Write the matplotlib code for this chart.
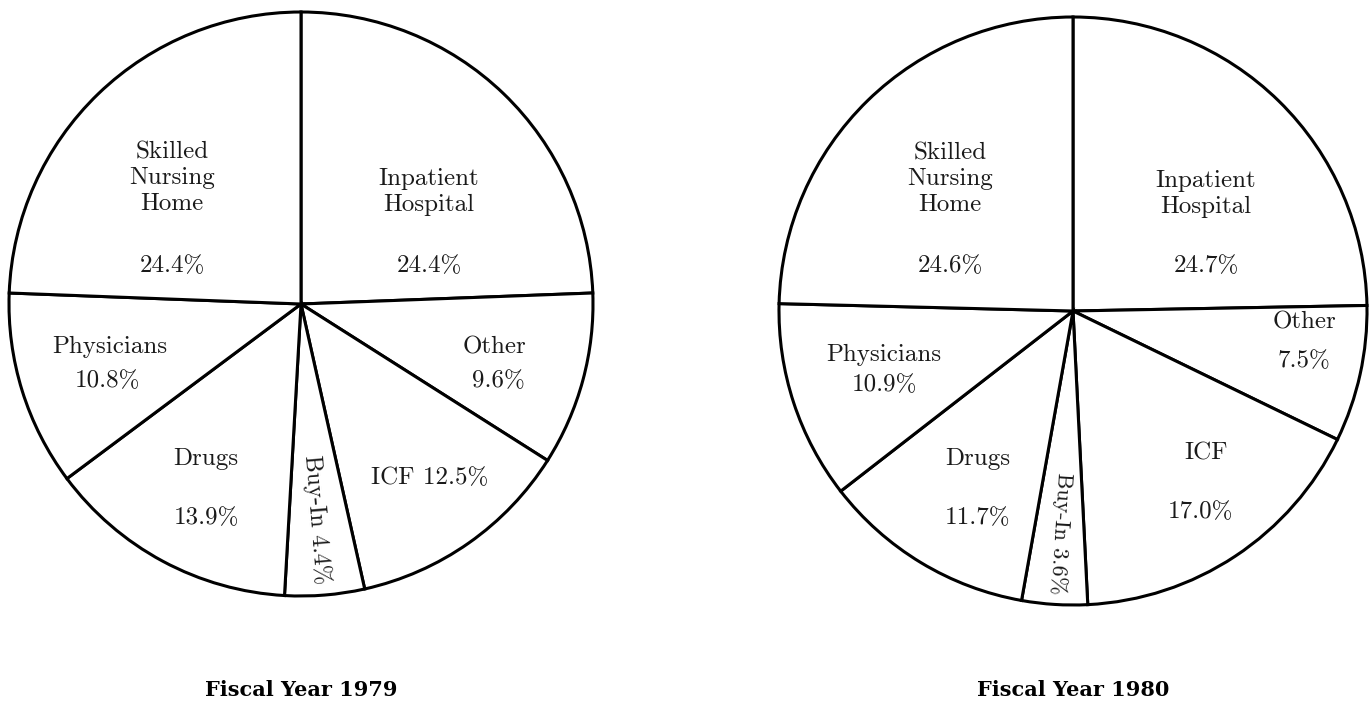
import matplotlib.pyplot as plt

# Medicaid-style expenditure shares, clockwise from 12 o'clock
categories = ['Inpatient Hospital', 'Other', 'ICF', 'Buy-In', 'Drugs',
              'Physicians', 'Skilled Nursing Home']
share_1979 = [24.4, 9.6, 12.5, 4.4, 13.9, 10.8, 24.4]
share_1980 = [24.7, 7.5, 17.0, 3.6, 11.7, 10.9, 24.6]
years = ['1979', '1980']

W, H = 1369, 704
fig = plt.figure(figsize=(W / 100, H / 100), dpi=100)
ax = fig.add_axes([0, 0, 1, 1])

LABEL_FONT = ['cmr10', 'DejaVu Serif']
TITLE_FONT = ['DejaVu Serif']


def draw_pie(values, cx, cy, r, layout, title):
    # cx, cy in pixels from top-left of the picture
    ycen = H - cy
    ax.pie(values, startangle=90, counterclock=False, center=(cx, ycen),
           radius=r, frame=False,
           wedgeprops=dict(facecolor='white', edgecolor='black',
                           linewidth=2.2, joinstyle='miter'))
    for text, dx, dy, rot, size in layout:
        ax.text(cx + dx, ycen - dy, text, ha='center', va='center',
                rotation=rot, rotation_mode='anchor', fontsize=size,
                family=LABEL_FONT, linespacing=1.2, color='#1a1a1a')
    ax.text(cx, 14, title, ha='center', va='center', fontsize=15,
            family=TITLE_FONT, fontweight='bold')


def pct(v):
    return f'{v:.1f}%'


FS = 18
s = share_1979
layout_1979 = [
    ('Inpatient\nHospital', 128, -112, 0, FS), (pct(s[0]), 128, -38, 0, FS),
    ('Other', 193, 43, 0, FS), (pct(s[1]), 197, 77, 0, FS),
    ('ICF ' + pct(s[2]), 129, 174, 0, FS),
    ('Buy-In ' + pct(s[3]), 16, 216, -85.3, 17),
    ('Drugs', -95, 155, 0, FS), (pct(s[4]), -95, 214, 0, FS),
    ('Physicians', -191, 43, 0, FS), (pct(s[5]), -194, 77, 0, FS),
    ('Skilled\nNursing\nHome', -129, -126, 0, FS), (pct(s[6]), -129, -38, 0, FS),
]

s = share_1980
layout_1980 = [
    ('Inpatient\nHospital', 133, -117, 0, FS), (pct(s[0]), 133, -45, 0, FS),
    ('Other', 231, 11, 0, FS), (pct(s[1]), 231, 50, 0, FS),
    ('ICF', 133, 142, 0, FS), (pct(s[2]), 127, 201, 0, FS),
    ('Buy-In ' + pct(s[3]), -12, 222, -93.6, 16),
    ('Drugs', -95, 148, 0, FS), (pct(s[4]), -95, 207, 0, FS),
    ('Physicians', -189, 44, 0, FS), (pct(s[5]), -189, 74, 0, FS),
    ('Skilled\nNursing\nHome', -123, -132, 0, FS), (pct(s[6]), -123, -45, 0, FS),
]

draw_pie(share_1979, 301, 304, 292, layout_1979, 'Fiscal Year ' + years[0])
draw_pie(share_1980, 1073, 311, 294, layout_1980, 'Fiscal Year ' + years[1])

ax.set_xlim(0, W)
ax.set_ylim(0, H)
ax.set_aspect('equal')
ax.axis('off')

fig.savefig('out.png', dpi=100, facecolor='white')
